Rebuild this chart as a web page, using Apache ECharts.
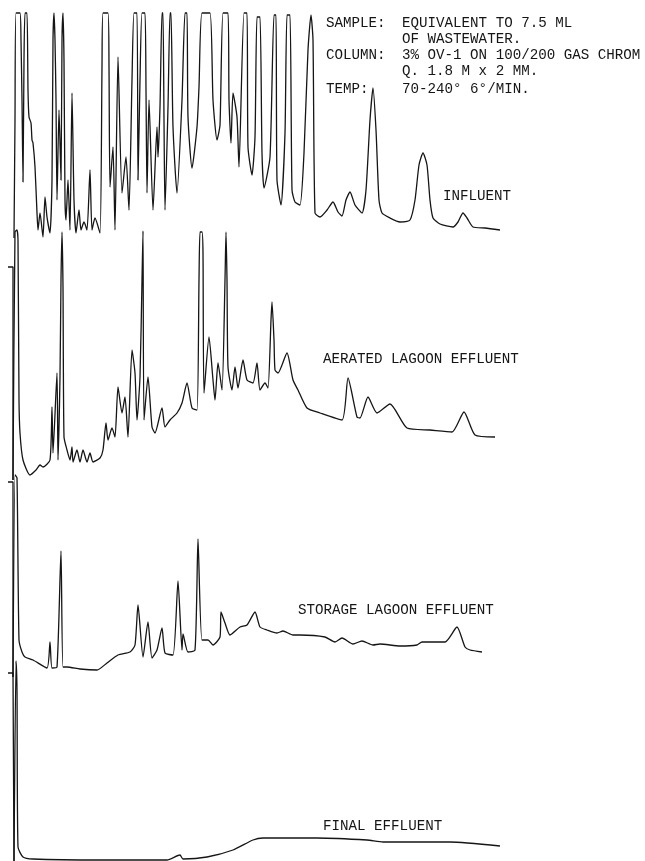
<!DOCTYPE html>
<html>
<head>
<meta charset="utf-8">
<script src="https://cdn.jsdelivr.net/npm/echarts@6/dist/echarts.min.js"></script>
<style>
html,body{margin:0;padding:0;background:#fff;}
#chart{width:645px;height:861px;}
</style>
</head>
<body>
<div id="chart"></div>
<script>
// Chromatograms: x = position along the recorder chart (chart units), y = detector deflection above each trace's reference level
const traceNames = ['INFLUENT', 'AERATED LAGOON EFFLUENT', 'STORAGE LAGOON EFFLUENT', 'FINAL EFFLUENT'];

const influent = [[14,2],[15,120],[16,227],[20,227],[21,200],[22,140],[23,58],[24,180],[25,227],[27,227],[28,150],[29,123],[31,117],[32,100],[33,97],[35,73],[37,27],[38,10],[40,27],[43,3],[45,43],[47,23],[50,7],[52,60],[53,200],[54,227],[55,200],[56,140],[57,40],[59,130],[61,60],[62,200],[63,227],[64,180],[65,40],[66,20],[68,60],[70,10],[72,147],[74,40],[76,7],[79,30],[81,10],[84,18],[87,10],[90,70],[92,10],[95,22],[100,7],[102,173],[103,227],[108,227],[109,173],[110,53],[113,93],[115,10],[118,183],[122,47],[126,83],[129,30],[132,160],[134,227],[137,227],[138,60],[140,160],[142,227],[145,227],[146,150],[147,47],[149,140],[153,30],[157,113],[158,83],[160,133],[162,227],[163,227],[164,120],[165,30],[168,133],[170,227],[171,227],[173,113],[177,47],[182,140],[185,227],[187,227],[188,123],[192,72],[197,113],[199,153],[202,227],[210,227],[213,140],[217,100],[220,115],[223,227],[228,227],[229,140],[231,97],[233,147],[237,123],[239,73],[244,227],[247,227],[248,93],[252,65],[255,103],[257,223],[260,223],[262,87],[264,52],[270,83],[274,225],[276,225],[277,60],[281,35],[285,107],[287,225],[290,225],[292,50],[295,38],[300,35],[304,87],[308,190],[311,225],[313,200],[315,27],[320,23],[327,30],[333,38],[338,28],[342,24],[346,40],[350,48],[355,35],[362,27],[366,50],[370,120],[373,152],[376,110],[379,40],[382,27],[390,22],[400,18],[410,20],[415,40],[419,75],[423,87],[427,75],[430,40],[433,22],[440,16],[453,13],[458,18],[463,27],[467,22],[473,13],[485,12],[500,10]];

const aerated = [[13,0],[15,248],[17,250],[18,240],[19,80],[20,47],[23,20],[30,5],[36,10],[40,15],[43,13],[50,20],[52,73],[53,27],[57,107],[58,20],[60,103],[61,200],[62,248],[63,193],[64,43],[67,30],[70,20],[72,33],[73,18],[77,30],[80,18],[83,30],[87,18],[90,27],[93,18],[100,22],[103,30],[106,57],[108,40],[112,52],[115,43],[118,93],[122,67],[125,83],[128,43],[132,130],[135,107],[137,60],[140,103],[142,200],[143,249],[144,60],[148,103],[152,53],[155,47],[162,72],[165,53],[170,60],[177,67],[182,77],[187,97],[192,72],[197,70],[199,200],[200,248],[202,248],[203,227],[204,87],[209,143],[213,100],[215,80],[218,117],[222,90],[225,200],[226,248],[227,200],[228,113],[232,90],[235,113],[238,92],[243,120],[247,100],[253,97],[257,117],[260,90],[265,97],[268,92],[271,160],[272,178],[274,140],[275,110],[278,107],[287,127],[293,100],[298,90],[307,72],[320,67],[342,60],[348,102],[357,63],[360,62],[368,83],[377,67],[390,76],[407,52],[430,50],[452,48],[464,68],[475,45],[495,43]];

const storage = [[13,3],[15,205],[17,202],[19,40],[22,28],[25,23],[33,20],[47,12],[50,38],[52,12],[57,13],[61,129],[63,13],[67,13],[80,11],[97,10],[107,17],[118,25],[130,28],[135,35],[138,75],[143,23],[148,58],[152,22],[157,30],[162,52],[165,27],[173,25],[178,99],[182,30],[183,46],[188,28],[195,30],[198,141],[202,40],[208,40],[213,35],[220,43],[221,68],[225,57],[230,45],[240,53],[247,55],[255,68],[260,53],[267,50],[277,47],[283,49],[293,45],[300,45],[325,43],[335,38],[342,42],[353,36],[362,39],[373,35],[380,36],[400,34],[417,35],[422,38],[445,38],[457,53],[465,33],[470,30],[482,28]];

const finalEff = [[14,0],[16,200],[17,170],[18,14],[23,4],[33,2],[100,1],[167,1],[180,6],[183,2],[207,4],[233,11],[253,21],[263,23],[317,23],[367,21],[383,19],[450,19],[500,15]];

// injection marks at the start of each lower trace: [x, deflection]
const injectionMarks = [null, [[8,213],[13,213],[13,0]], [[8,198],[13,198],[13,3]], [[8,188],[13,188],[14,0]]];

const conditionLabels = ['SAMPLE:', '', 'COLUMN:', '', 'TEMP:'];
const conditionValues = ['EQUIVALENT TO 7.5 ML', 'OF WASTEWATER.', '3% OV-1 ON 100/200 GAS CHROM', 'Q. 1.8 M x 2 MM.', '70-240\u00B0 6\u00B0/MIN.'];

const traces = [influent, aerated, storage, finalEff];

// layout (styling only)
const gridLayout = [
  {top: 0, height: 240, max: 240},
  {top: 200, height: 280, max: 280},
  {top: 400, height: 280, max: 280},
  {top: 581, height: 280, max: 280}
];
const labelPos = [[443,197],[323,360],[298,611],[323,827]];
const condRowY = [23, 39, 55, 71, 89];
const FONT = '"Liberation Mono", "DejaVu Sans Mono", monospace';
const INK = '#151515';

const chart = echarts.init(document.getElementById('chart'), null, {renderer: 'canvas'});

const grids = [], xAxes = [], yAxes = [], series = [];
gridLayout.forEach((g, i) => {
  grids.push({left: 0, right: 0, top: g.top, height: g.height, containLabel: false});
  xAxes.push({type: 'value', gridIndex: i, min: 0, max: 645, show: false});
  yAxes.push({type: 'value', gridIndex: i, min: 0, max: g.max, show: false});
  series.push({
    name: traceNames[i], type: 'line', xAxisIndex: i, yAxisIndex: i,
    data: traces[i], showSymbol: false, symbol: 'none', clip: false, smooth: 0.2,
    lineStyle: {color: INK, width: 1.3}, silent: true
  });
  if (injectionMarks[i]) {
    series.push({
      name: traceNames[i] + ' start', type: 'line', xAxisIndex: i, yAxisIndex: i,
      data: injectionMarks[i], showSymbol: false, symbol: 'none', clip: false,
      lineStyle: {color: INK, width: 1.3}, silent: true
    });
  }
});

const graphics = [];
traceNames.forEach((n, i) => {
  graphics.push({type: 'text', left: labelPos[i][0], top: labelPos[i][1] - 8,
    style: {text: n, font: '14.2px ' + FONT, fill: INK}});
});
conditionLabels.forEach((t, i) => {
  if (t) graphics.push({type: 'text', left: 326, top: condRowY[i] - 7,
    style: {text: t, font: '14.2px ' + FONT, fill: INK}});
  graphics.push({type: 'text', left: 402, top: condRowY[i] - 7,
    style: {text: conditionValues[i], font: '14.2px ' + FONT, fill: INK}});
});

chart.setOption({
  backgroundColor: '#ffffff',
  animation: false,
  grid: grids, xAxis: xAxes, yAxis: yAxes, series: series,
  graphic: graphics
});
</script>
</body>
</html>
